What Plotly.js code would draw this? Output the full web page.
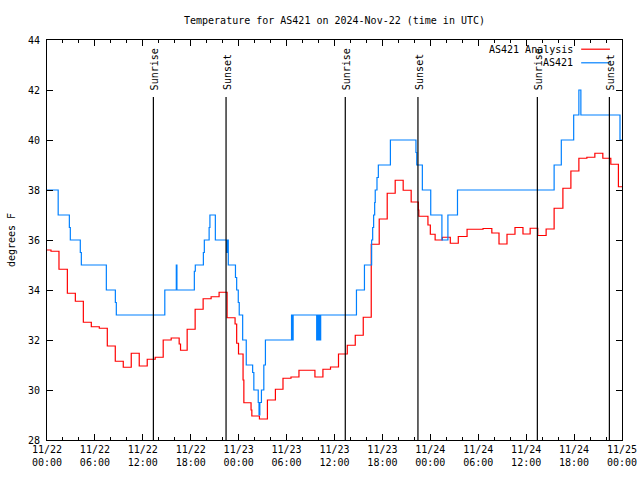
<!DOCTYPE html>
<html><head><meta charset="utf-8">
<script src="https://cdn.plot.ly/plotly-3.0.1.min.js"></script>
<style>html,body{margin:0;padding:0;background:#fff}</style>
</head><body><div id="chart" style="width:640px;height:480px"></div>
<script>
// Hours after 2024-11-22 00:00 UTC at which each value begins (step chart)
const analysisHours = [0,0.5,1.5,2.55,3.55,4.55,5.55,6.55,7.55,8.55,9.55,10.55,11.55,12.55,13.55,14.55,15.55,16.55,16.72,17.55,18.55,19.55,20.55,21.55,22.55,23.55,23.75,23.98,24.55,24.65,25.55,25.65,26.6,27.6,28.6,29.55,30.55,31.55,33.55,34.55,35.5,36.5,37.6,38.6,39.6,40.6,41.6,42.6,43.6,44.6,45.6,46.5,46.56,47.7,48.0,48.6,49.5,50.5,51.5,52.6,54.6,55.7,56.6,57.6,58.6,59.6,60.5,61.45,62.5,63.5,64.6,65.6,66.6,67.6,68.6,69.6,70.6,71.55,72];
const analysisTemps = [35.6,35.55,34.83,33.87,33.55,32.71,32.53,32.47,31.76,31.15,30.91,31.47,30.96,31.23,31.31,32.0,32.08,31.84,31.59,32.43,33.23,33.65,33.73,33.91,32.89,32.64,31.87,31.44,30.4,29.49,29.2,28.96,28.84,29.6,30.03,30.47,30.52,30.79,30.52,30.83,30.92,31.44,31.79,32.19,32.91,35.83,36.84,37.87,38.39,37.99,37.52,37.2,36.95,36.6,36.23,36.0,36.11,35.87,36.14,36.43,36.46,36.28,35.84,36.23,36.5,36.24,36.47,36.18,36.44,37.27,38.07,38.76,39.27,39.31,39.47,39.27,39.03,38.13,38.13];

const obsHours = [0,1.4,2.8,2.92,4.17,4.3,7.43,8.56,8.68,14.75,16.19,16.27,18.45,18.57,19.58,19.7,20.3,20.4,21.08,22.5,22.6,22.7,23.6,23.75,23.95,24.07,24.5,24.95,25.75,25.9,26.45,26.55,26.65,26.85,27.15,27.35,30.62,30.7,30.82,33.77,33.9,34.0,34.1,34.17,34.27,38.75,39.75,40.65,40.78,40.9,41.03,41.1,41.32,41.49,43.0,46.2,46.3,47.0,48.05,49.45,50.2,51.4,63.5,64.4,65.95,66.6,66.85,71.75,72];
const obsTemps = [38,37,36.5,36,35.5,35,34,33.5,33,34,35,34,34.75,35,35.5,36,36.5,37,36,35.5,36,35,34.5,34,33.5,33,32,31,30.7,30,29.5,29,29.5,30,31,32,33,32,33,32,33,32,33,32,33,34,35,36,36.5,37,37.5,38,38.5,39,40,39.5,39,38,37,36,37,38,39,40,41,42,41,40,40];

const eventHours = [13.32,22.42,37.35,46.45,61.4,70.42];
const eventLabels = ['Sunrise','Sunset','Sunrise','Sunset','Sunrise','Sunset'];

const seriesNames = ['AS421 Analysis','AS421'];
const seriesColors = ['#ff0000','#0080ff'];

function hToDate(h){
  const d = new Date(Date.UTC(2024,10,22) + Math.round(h*3600000));
  const p = n => String(n).padStart(2,'0');
  return d.getUTCFullYear()+'-'+p(d.getUTCMonth()+1)+'-'+p(d.getUTCDate())+' '+p(d.getUTCHours())+':'+p(d.getUTCMinutes())+':'+p(d.getUTCSeconds());
}

const traces = [
  {x: analysisHours.map(hToDate), y: analysisTemps, type:'scatter', mode:'lines', name:seriesNames[0], line:{shape:'hv', color:seriesColors[0], width:1.2}},
  {x: obsHours.map(hToDate), y: obsTemps, type:'scatter', mode:'lines', name:seriesNames[1], line:{shape:'hv', color:seriesColors[1], width:1.2}}
];

const shapes = [];
const annotations = [];
eventHours.forEach((h,i) => {
  shapes.push({type:'line', xref:'x', yref:'paper', x0:hToDate(h), x1:hToDate(h), y0:0, y1:0.8575, line:{color:'#000', width:1.2}, layer:'above'});
  annotations.push({text:eventLabels[i], x:hToDate(h), xref:'x', y:0.87, yref:'paper', textangle:-90, xanchor:'center', yanchor:'bottom', showarrow:false, xshift:1, font:{size:10, color:'#000'}});
});
// legend (gnuplot style: text then sample)
const legendY = [0.977, 0.943];
seriesNames.forEach((n,i) => {
  annotations.push({text:n, xref:'paper', yref:'paper', x:0.918, y:legendY[i], xanchor:'right', yanchor:'middle', showarrow:false, font:{size:10, color:'#000'}});
  shapes.push({type:'line', xref:'paper', yref:'paper', x0:0.929, x1:0.979, y0:legendY[i], y1:legendY[i], line:{color:seriesColors[i], width:1.2}});
});

const layout = {
  width:640, height:480,
  margin:{l:47, r:18, t:40, b:40, pad:0},
  paper_bgcolor:'#fff', plot_bgcolor:'#fff',
  font:{family:'DejaVu Sans Mono, monospace', size:10, color:'#000'},
  title:{text:'Temperature for AS421 on 2024-Nov-22 (time in UTC)', xref:'paper', x:0.5, xanchor:'center', yref:'container', y:0.957, yanchor:'middle', font:{size:10}},
  showlegend:false,
  xaxis:{type:'date', range:[hToDate(0), hToDate(72)], tick0:hToDate(0), dtick:6*3600000, tickformat:'%m/%d<br>%H:%M',
    ticks:'inside', ticklen:6, tickcolor:'#000', showgrid:false, zeroline:false, showline:true, linecolor:'#000', linewidth:1, mirror:'ticks',
    minor:{dtick:2*3600000, ticks:'inside', ticklen:3, tickcolor:'#000', showgrid:false}, fixedrange:true},
  yaxis:{range:[28,44], tick0:28, dtick:2, ticks:'inside', ticklen:6, tickcolor:'#000', showgrid:false, zeroline:false, showline:true, linecolor:'#000', linewidth:1, mirror:'ticks',
    ticklabelstandoff:4, title:{text:'degrees F', standoff:10, font:{size:10}}, fixedrange:true},
  shapes:shapes, annotations:annotations
};
Plotly.newPlot('chart', traces, layout, {staticPlot:true, displayModeBar:false});
</script></body></html>
